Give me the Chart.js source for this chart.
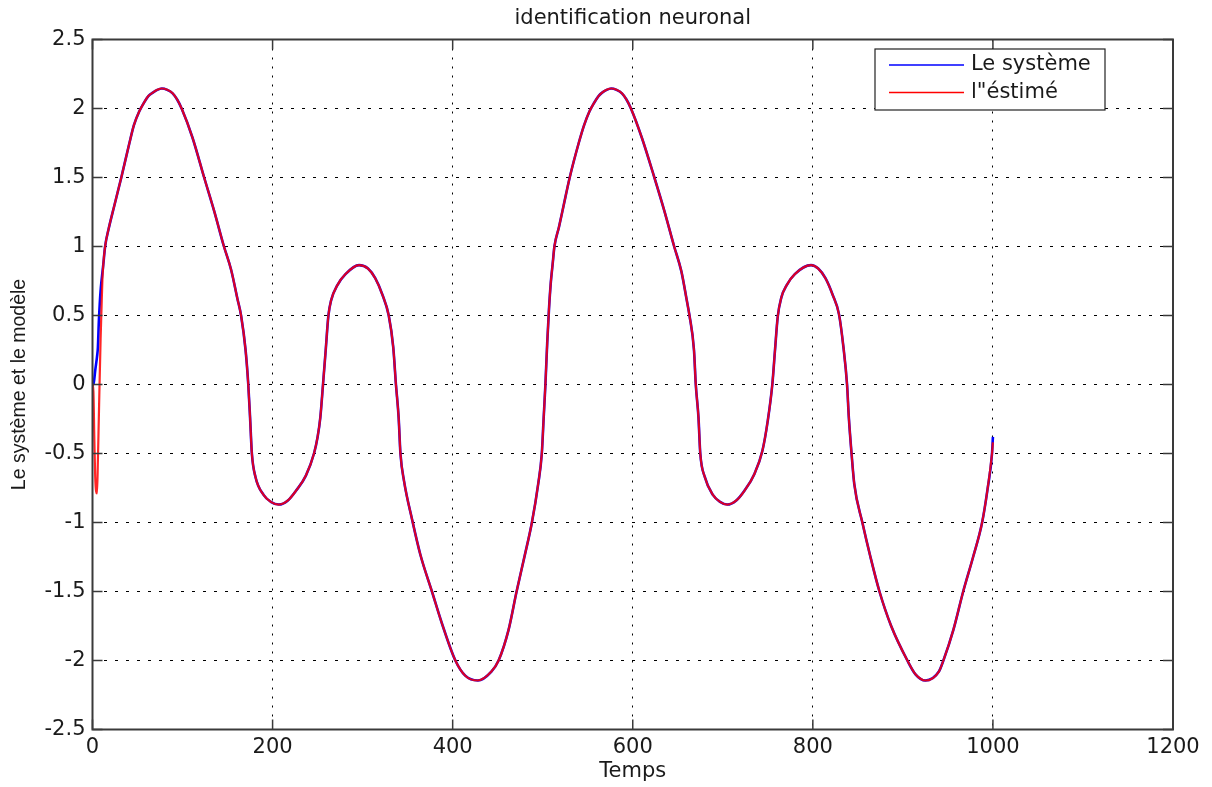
<!DOCTYPE html>
<html lang="fr">
<head>
<meta charset="utf-8">
<title>identification neuronal</title>
<script src="https://cdn.jsdelivr.net/npm/chart.js@4.4.1/dist/chart.umd.min.js"></script>
<style>
  html, body { margin: 0; padding: 0; background: #fff; }
  canvas { display: block; }
</style>
</head>
<body>
<canvas id="graphe" width="1212" height="787"></canvas>
<script>
// valeurs (Temps, sortie)
const temps = [
  0, 1, 2, 3, 5, 6, 7, 8, 9, 10,
  11, 12, 14, 18, 24, 32, 41, 46, 52, 57,
  62, 67, 72, 77, 83, 89, 94, 99, 111, 124,
  135, 146, 154, 161, 165, 170, 173, 175, 177, 181,
  190, 198, 207, 217, 226, 237, 246, 250, 253, 256,
  259, 262, 265, 272, 281, 296, 306, 314, 322, 329,
  334, 337, 340, 342, 346, 355, 364, 377, 388, 403,
  414, 428, 443, 451, 462, 471, 480, 488, 495, 499,
  501, 503, 505, 507, 509, 511, 513, 518, 523, 530,
  540, 546, 552, 557, 562, 566, 571, 576, 582, 588,
  593, 598, 610, 624, 635, 646, 654, 660, 663, 668,
  670, 673, 675, 680, 689, 697, 705, 715, 724, 735,
  744, 750, 755, 758, 761, 765, 771, 780, 798, 806,
  814, 822, 829, 834, 838, 840, 843, 846, 855, 864,
  874, 887, 905, 914, 925, 940, 945, 956, 967, 978,
  988, 994, 999, 1000
];

const systeme = [
  0, 0, 0.04, 0.1, 0.2, 0.27, 0.45, 0.58, 0.68, 0.75,
  0.81, 0.87, 1.0, 1.13, 1.29, 1.5, 1.75, 1.88, 1.98, 2.04,
  2.09, 2.115, 2.135, 2.145, 2.135, 2.11, 2.065, 2.0, 1.79, 1.5,
  1.26, 1.0, 0.83, 0.62, 0.5, 0.25, 0, -0.24, -0.5, -0.67,
  -0.8, -0.85, -0.87, -0.84, -0.77, -0.66, -0.5, -0.38, -0.24, 0,
  0.25, 0.5, 0.61, 0.72, 0.8, 0.865, 0.84, 0.77, 0.65, 0.5,
  0.27, 0, -0.24, -0.5, -0.7, -0.98, -1.23, -1.5, -1.73, -2.0,
  -2.11, -2.145, -2.08, -2.0, -1.78, -1.5, -1.24, -1.0, -0.72, -0.5,
  -0.25, 0, 0.3, 0.55, 0.74, 0.87, 1.0, 1.14, 1.29, 1.5,
  1.75, 1.88, 1.98, 2.04, 2.09, 2.115, 2.135, 2.145, 2.135, 2.11,
  2.065, 2.0, 1.79, 1.5, 1.26, 1.0, 0.82, 0.61, 0.5, 0.25,
  0, -0.24, -0.5, -0.67, -0.8, -0.85, -0.87, -0.84, -0.77, -0.65,
  -0.48, -0.26, 0, 0.25, 0.49, 0.63, 0.72, 0.8, 0.865, 0.84,
  0.77, 0.65, 0.51, 0.27, 0, -0.24, -0.5, -0.72, -1.0, -1.25,
  -1.5, -1.75, -2.0, -2.1, -2.145, -2.08, -2.0, -1.78, -1.5, -1.25,
  -1.0, -0.76, -0.5, -0.38
];

const estime = [
  0, -0.05, -0.38, -0.67, -0.79, -0.55, -0.25, 0.05, 0.33, 0.55,
  0.76, 0.87, 1.0, 1.13, 1.29, 1.5, 1.75, 1.88, 1.98, 2.04,
  2.09, 2.115, 2.135, 2.145, 2.135, 2.11, 2.065, 2.0, 1.79, 1.5,
  1.26, 1.0, 0.83, 0.62, 0.5, 0.25, 0, -0.24, -0.5, -0.67,
  -0.8, -0.85, -0.87, -0.84, -0.77, -0.66, -0.5, -0.38, -0.24, 0,
  0.25, 0.5, 0.61, 0.72, 0.8, 0.865, 0.84, 0.77, 0.65, 0.5,
  0.27, 0, -0.24, -0.5, -0.7, -0.98, -1.23, -1.5, -1.73, -2.0,
  -2.11, -2.145, -2.08, -2.0, -1.78, -1.5, -1.24, -1.0, -0.72, -0.5,
  -0.25, 0, 0.3, 0.55, 0.74, 0.87, 1.0, 1.14, 1.29, 1.5,
  1.75, 1.88, 1.98, 2.04, 2.09, 2.115, 2.135, 2.145, 2.135, 2.11,
  2.065, 2.0, 1.79, 1.5, 1.26, 1.0, 0.82, 0.61, 0.5, 0.25,
  0, -0.24, -0.5, -0.67, -0.8, -0.85, -0.87, -0.84, -0.77, -0.65,
  -0.48, -0.26, 0, 0.25, 0.49, 0.63, 0.72, 0.8, 0.865, 0.84,
  0.77, 0.65, 0.51, 0.27, 0, -0.24, -0.5, -0.72, -1.0, -1.25,
  -1.5, -1.75, -2.0, -2.1, -2.145, -2.08, -2.0, -1.78, -1.5, -1.25,
  -1.0, -0.76, -0.5, -0.42
];

const libelles = ['Le système', 'l"éstimé'];
const couleurs = ['#0000ff', '#ff0000'];

const texte = '#1a1a1a';
const cadreCouleur = '#3a3a3a';

// cadre, graduations internes et légende façon Matlab
const cadre = {
  id: 'cadre',
  afterDatasetsDraw(chart) {
    const { ctx, chartArea: a, scales: { x, y } } = chart;
    ctx.save();
    ctx.strokeStyle = cadreCouleur;
    ctx.lineWidth = 1.5;
    const lg = 10;
    x.ticks.forEach(t => {
      const px = x.getPixelForValue(t.value);
      ctx.beginPath();
      ctx.moveTo(px, a.bottom); ctx.lineTo(px, a.bottom - lg);
      ctx.moveTo(px, a.top); ctx.lineTo(px, a.top + lg);
      ctx.stroke();
    });
    y.ticks.forEach(t => {
      const py = y.getPixelForValue(t.value);
      ctx.beginPath();
      ctx.moveTo(a.left, py); ctx.lineTo(a.left + lg, py);
      ctx.moveTo(a.right, py); ctx.lineTo(a.right - lg, py);
      ctx.stroke();
    });
    ctx.lineWidth = 2;
    ctx.strokeRect(a.left, a.top, a.right - a.left, a.bottom - a.top);

    // légende
    const bx = a.right - 298, by = a.top + 9.5, bw = 230, bh = 61;
    ctx.fillStyle = '#fff';
    ctx.fillRect(bx, by, bw, bh);
    ctx.lineWidth = 1.2;
    ctx.strokeStyle = '#222';
    ctx.strokeRect(bx, by, bw, bh);
    ctx.font = '21px "DejaVu Sans"';
    ctx.textBaseline = 'middle';
    ctx.textAlign = 'left';
    libelles.forEach((lib, i) => {
      const ly = by + 16 + i * 27.5;
      ctx.strokeStyle = couleurs[i];
      ctx.lineWidth = 1.5;
      ctx.beginPath();
      ctx.moveTo(bx + 14, ly); ctx.lineTo(bx + 89, ly);
      ctx.stroke();
      ctx.fillStyle = texte;
      ctx.fillText(lib, bx + 96, ly);
    });
    ctx.restore();
  }
};

Chart.defaults.font.family = '"DejaVu Sans"';
Chart.defaults.color = texte;

const ctx = document.getElementById('graphe').getContext('2d');
new Chart(ctx, {
  type: 'line',
  data: {
    datasets: [
      {
        label: libelles[1],
        data: temps.map((t, i) => ({ x: t, y: estime[i] })),
        borderColor: 'rgba(255, 0, 0, 0.85)',
        borderWidth: 2.2,
        order: 1
      },
      {
        label: libelles[0],
        data: temps.map((t, i) => ({ x: t, y: systeme[i] })),
        borderColor: couleurs[0],
        borderWidth: 2.6,
        order: 2
      }
    ]
  },
  options: {
    responsive: false,
    animation: false,
    devicePixelRatio: 1,
    layout: { padding: { top: 0, right: 39, bottom: 0, left: 0 } },
    elements: {
      point: { radius: 0, hoverRadius: 0 },
      line: { cubicInterpolationMode: 'monotone', fill: false }
    },
    scales: {
      x: {
        type: 'linear',
        min: 0,
        max: 1200,
        afterFit: s => { s.height = 57.5; },
        ticks: {
          stepSize: 200,
          padding: 5,
          font: { size: 21 },
          color: texte,
          maxRotation: 0,
          callback: v => String(v)
        },
        grid: {
          color: '#000',
          lineWidth: 1,
          drawTicks: false
        },
        border: { display: false, dash: [2, 7] },
        title: {
          display: true,
          text: 'Temps',
          font: { size: 21 },
          color: texte,
          padding: { top: 0, bottom: 3 }
        }
      },
      y: {
        min: -2.5,
        max: 2.5,
        afterFit: s => { s.width = 92.5; },
        ticks: {
          stepSize: 0.5,
          padding: 7,
          font: { size: 21 },
          color: texte,
          callback: v => String(Math.round(v * 10) / 10)
        },
        grid: {
          color: '#000',
          lineWidth: 1,
          drawTicks: false
        },
        border: { display: false, dash: [3, 8] },
        title: {
          display: true,
          text: 'Le système et le modèle',
          font: { family: '"Liberation Sans"', size: 19.5 },
          color: texte,
          padding: { top: 8, bottom: 0 }
        }
      }
    },
    plugins: {
      legend: { display: false },
      tooltip: { enabled: false },
      title: {
        display: true,
        text: 'identification neuronal',
        fullSize: false,
        font: { size: 21, weight: 'normal' },
        color: texte,
        padding: { top: 6, bottom: 8.3 }
      }
    }
  },
  plugins: [cadre]
});
</script>
</body>
</html>
